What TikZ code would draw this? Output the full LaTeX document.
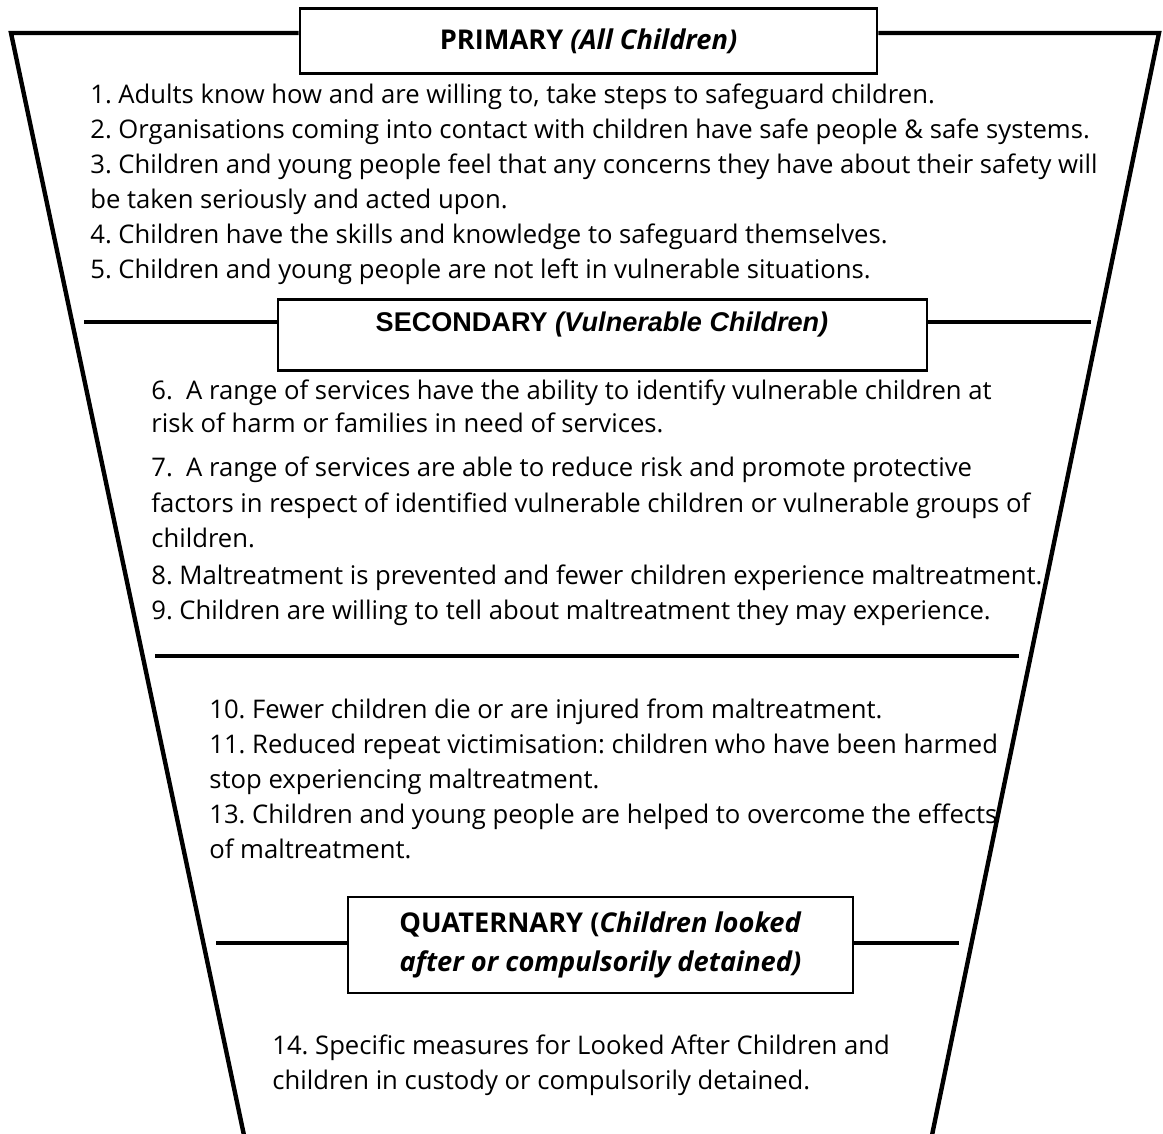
\documentclass[tikz,border=0pt]{standalone}
\usepackage{fontspec}
\setmainfont{Open Sans}
\newfontfamily\hdrfont{Liberation Sans}
\frenchspacing

\tikzset{
	funnel/.style={line width=2.5pt, line join=miter},
	bar/.style={line width=2.5pt},
	hdrbox/.style={draw, line width=1.6pt, inner sep=0pt, align=center,
		font=\fontsize{15.5}{22}\selectfont\bfseries},
	item/.style={anchor=base west, inner sep=0pt, font=\fontsize{14.6}{17}\selectfont},
}

\begin{document}
\begin{tikzpicture}[x=0.02cm, y=-0.02cm]
	\useasboundingbox (0,0) rectangle (1163,1133);

	% level boxes
	\node[hdrbox, minimum width=11.54cm, minimum height=1.3cm] (prim) at (588.5,41) {PRIMARY \textit{(All Children)}};
	\node[hdrbox, minimum width=12.98cm, minimum height=1.42cm] (sec) at (602.5,335) {};
	\node[hdrbox, minimum width=10.1cm, minimum height=1.92cm] (quat) at (600.5,945) {QUATERNARY (\textit{Children looked}\\\textit{after or compulsorily detained)}};
	\node[font=\hdrfont\fontsize{15.4}{18}\selectfont\bfseries] (sectxt) at (602,324) {SECONDARY \textit{(Vulnerable Children)}};

	% funnel
	\coordinate (tl) at (11,33);
	\coordinate (tr) at (1159,33);
	\coordinate (bl) at (245,1140);
	\coordinate (br) at (931,1140);

	\draw[funnel] (bl) -- (tl) -- (tl -| prim.west);
	\draw[funnel] (prim.east |- tr) -- (tr) -- (br);

	% separators
	\coordinate (s1) at (84,322);
	\coordinate (s2) at (1091,322);
	\coordinate (d1) at (155,656);
	\coordinate (d2) at (1019,656);
	\coordinate (q1) at (216,943);
	\coordinate (q2) at (959,943);

	\draw[bar] (s1) -- (s1 -| sec.west);
	\draw[bar] (sec.east |- s2) -- (s2);
	\draw[bar] (d1) -- (d2);
	\draw[bar] (q1) -- (q1 -| quat.west);
	\draw[bar] (quat.east |- q2) -- (q2);

	% primary outcomes
	\foreach \txt [count=\i] in {
		{1. Adults know how and are willing to, take steps to safeguard children.},
		{2. Organisations coming into contact with children have safe people \& safe systems.},
		{3. Children and young people feel that any concerns they have about their safety will},
		{be taken seriously and acted upon.},
		{4. Children have the skills and knowledge to safeguard themselves.},
		{5. Children and young people are not left in vulnerable situations.}}
		\node[item] (p\i) at (90,{103+35*(\i-1)}) {\txt};

	% secondary outcomes
	\foreach \y/\txt [count=\i] in {
		399/{6.~ A range of services have the ability to identify vulnerable children at},
		432/{risk of harm or families in need of services.},
		476/{7.~ A range of services are able to reduce risk and promote protective},
		512/{factors in respect of identified vulnerable children or vulnerable groups of},
		547/{children.},
		584/{8. Maltreatment is prevented and fewer children experience maltreatment.},
		619/{9. Children are willing to tell about maltreatment they may experience.}}
		\node[item] (s\i) at (151,\y) {\txt};

	% tertiary outcomes
	\foreach \txt [count=\i] in {
		{10. Fewer children die or are injured from maltreatment.},
		{11. Reduced repeat victimisation: children who have been harmed},
		{stop experiencing maltreatment.},
		{13. Children and young people are helped to overcome the effects},
		{of maltreatment.}}
		\node[item] (t\i) at (209,{718+35*(\i-1)}) {\txt};

	% quaternary outcomes
	\node[item] (q1txt) at (272,1054) {14. Specific measures for Looked After Children and};
	\node[item] (q2txt) at (272,1089) {children in custody or compulsorily detained.};
\end{tikzpicture}
\end{document}
